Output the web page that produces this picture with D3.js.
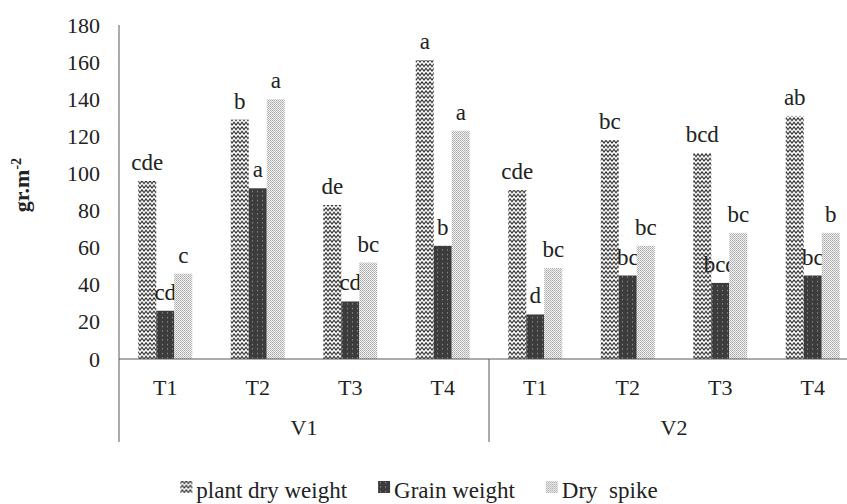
<!DOCTYPE html>
<html>
<head>
<meta charset="utf-8">
<script src="https://cdn.jsdelivr.net/npm/d3@7"></script>
<style>
  body { margin: 0; background: #fff; }
  svg { display: block; }
  svg text { font-family: 'Liberation Serif', serif; }
</style>
</head>
<body>
<svg id="chart" width="847" height="504"></svg>
<script>
'use strict'

// data
const groups = ['V1', 'V2']
const treatments = ['T1', 'T2', 'T3', 'T4']
const seriesNames = ['plant dry weight', 'Grain weight', 'Dry  spike']
const plantDry = [96, 129, 83, 161, 91, 118, 111, 131]
const grainWeight = [26, 92, 31, 61, 24, 45, 41, 45]
const drySpike = [46, 140, 52, 123, 49, 61, 68, 68]
const plantLetters = ['cde', 'b', 'de', 'a', 'cde', 'bc', 'bcd', 'ab']
const grainLetters = ['cd', 'a', 'cd', 'b', 'd', 'bc', 'bcd', 'bc']
const spikeLetters = ['c', 'a', 'bc', 'a', 'bc', 'bc', 'bc', 'b']
const yTicks = [0, 20, 40, 60, 80, 100, 120, 140, 160, 180]

const keys = []
groups.forEach(g => treatments.forEach(t => keys.push(g + '-' + t)))

const seriesData = [
    { name: seriesNames[0], values: plantDry, letters: plantLetters, fill: 'url(#zigzag)' },
    { name: seriesNames[1], values: grainWeight, letters: grainLetters, fill: 'url(#dotsDark)' },
    { name: seriesNames[2], values: drySpike, letters: spikeLetters, fill: 'url(#dotsLight)' }
]

const FONT = "'Liberation Serif', 'Times New Roman', serif"
const svg = d3.select('#chart').attr('font-family', FONT)
const mLeft = 119, mRight = 859, mTop = 25, mBottom = 359
const axisColor = '#595959'

// patterns
const defs = svg.append('defs')
const zig = defs.append('pattern').attr('id', 'zigzag')
    .attr('patternUnits', 'userSpaceOnUse').attr('width', 4).attr('height', 4.5)
zig.append('rect').attr('width', 4).attr('height', 4.5).attr('fill', '#fff')
zig.append('path').attr('d', 'M-1,2.2 L0,3.6 L2,0.8 L4,3.6 L5,2.2').attr('fill', 'none')
    .attr('stroke', '#1e1e1e').attr('stroke-width', 1.1)

const dark = defs.append('pattern').attr('id', 'dotsDark')
    .attr('patternUnits', 'userSpaceOnUse').attr('width', 5).attr('height', 4.5)
dark.append('rect').attr('width', 5).attr('height', 4.5).attr('fill', '#3c3c3c')
dark.append('rect').attr('x', 2).attr('y', 2).attr('width', 1).attr('height', 1).attr('fill', '#b0b0b0')

const light = defs.append('pattern').attr('id', 'dotsLight')
    .attr('patternUnits', 'userSpaceOnUse').attr('width', 2).attr('height', 2)
light.append('rect').attr('width', 2).attr('height', 2).attr('fill', '#f2f2f2')
light.append('rect').attr('width', 1).attr('height', 1).attr('fill', '#a8a8a8')
light.append('rect').attr('x', 1).attr('y', 1).attr('width', 1).attr('height', 1).attr('fill', '#bdbdbd')

const x = d3.scaleBand().domain(keys).range([mLeft, mRight]).padding(0)
const catW = x.bandwidth()
const barW = 18
const xs = d3.scaleBand().domain(seriesNames)
    .range([(catW - 3 * barW) / 2, (catW + 3 * barW) / 2]).padding(0)
const y = d3.scaleLinear().domain([0, 180]).range([mBottom, mTop])

// y axis
const yAxis = svg.append('g').attr('transform', `translate(${mLeft},0)`)
    .call(d3.axisLeft(y).tickValues(yTicks).tickSize(0).tickPadding(19))
yAxis.attr('font-family', FONT)
yAxis.select('.domain').remove()
yAxis.selectAll('text').attr('font-size', 22).attr('fill', '#222')

svg.append('line').attr('x1', mLeft).attr('x2', mLeft).attr('y1', mTop).attr('y2', 442)
    .attr('stroke', axisColor)

// bars
const barGroups = svg.selectAll('g.series').data(seriesData).enter().append('g').attr('class', 'series')
barGroups.selectAll('rect')
    .data(s => s.values.map((v, i) => ({ v, i, s })))
    .enter().append('rect')
    .attr('x', d => x(keys[d.i]) + xs(d.s.name))
    .attr('y', d => y(d.v))
    .attr('width', xs.bandwidth())
    .attr('height', d => mBottom - y(d.v))
    .attr('fill', d => d.s.fill)

// letters
barGroups.selectAll('text')
    .data(s => s.values.map((v, i) => ({ v, i, s })))
    .enter().append('text')
    .attr('x', d => x(keys[d.i]) + xs(d.s.name) + xs.bandwidth() / 2)
    .attr('y', d => y(d.v) - 11)
    .attr('text-anchor', 'middle')
    .attr('font-family', FONT)
    .attr('font-size', 23)
    .attr('fill', '#222')
    .text(d => d.s.letters[d.i])

// x axis baseline and category labels
svg.append('line').attr('x1', mLeft).attr('x2', mRight).attr('y1', mBottom).attr('y2', mBottom)
    .attr('stroke', axisColor)

svg.append('g').selectAll('text').data(keys).enter().append('text')
    .attr('x', k => x(k) + catW / 2)
    .attr('y', 395)
    .attr('text-anchor', 'middle')
    .attr('font-family', FONT)
    .attr('font-size', 22)
    .attr('fill', '#222')
    .text(k => k.split('-')[1])

const groupW = catW * treatments.length
groups.forEach((g, gi) => {
    const gx = mLeft + gi * groupW
    svg.append('line').attr('x1', gx + groupW).attr('x2', gx + groupW)
        .attr('y1', mBottom).attr('y2', 442).attr('stroke', axisColor)
    svg.append('text').attr('x', gx + groupW / 2).attr('y', 435)
        .attr('text-anchor', 'middle').attr('font-family', FONT)
        .attr('font-size', 22).attr('fill', '#222')
        .text(g)
})

// y title
const yt = svg.append('text')
    .attr('transform', 'translate(29,185) rotate(-90)')
    .attr('text-anchor', 'middle').attr('font-family', FONT)
    .attr('font-size', 22).attr('font-weight', 'bold').attr('fill', '#222')
yt.append('tspan').text('gr.m')
yt.append('tspan').attr('dy', -8).attr('font-size', 14).text('-2')

// legend
const legend = svg.append('g')
let lx = 0
seriesData.forEach(s => {
    const it = legend.append('g').attr('transform', `translate(${lx},0)`)
    it.append('rect').attr('x', 0).attr('y', -17).attr('width', 12).attr('height', 12)
        .attr('fill', s.fill)
    const t = it.append('text').attr('x', 16).attr('y', 0)
        .attr('font-family', FONT)
        .attr('font-size', 23).attr('fill', '#222')
        .attr('xml:space', 'preserve').style('white-space', 'pre')
        .text(s.name)
    lx += 16 + t.node().getComputedTextLength() + 31
})
const legendW = lx - 31
legend.attr('transform', `translate(${419 - legendW / 2},498)`)
</script>
</body>
</html>
